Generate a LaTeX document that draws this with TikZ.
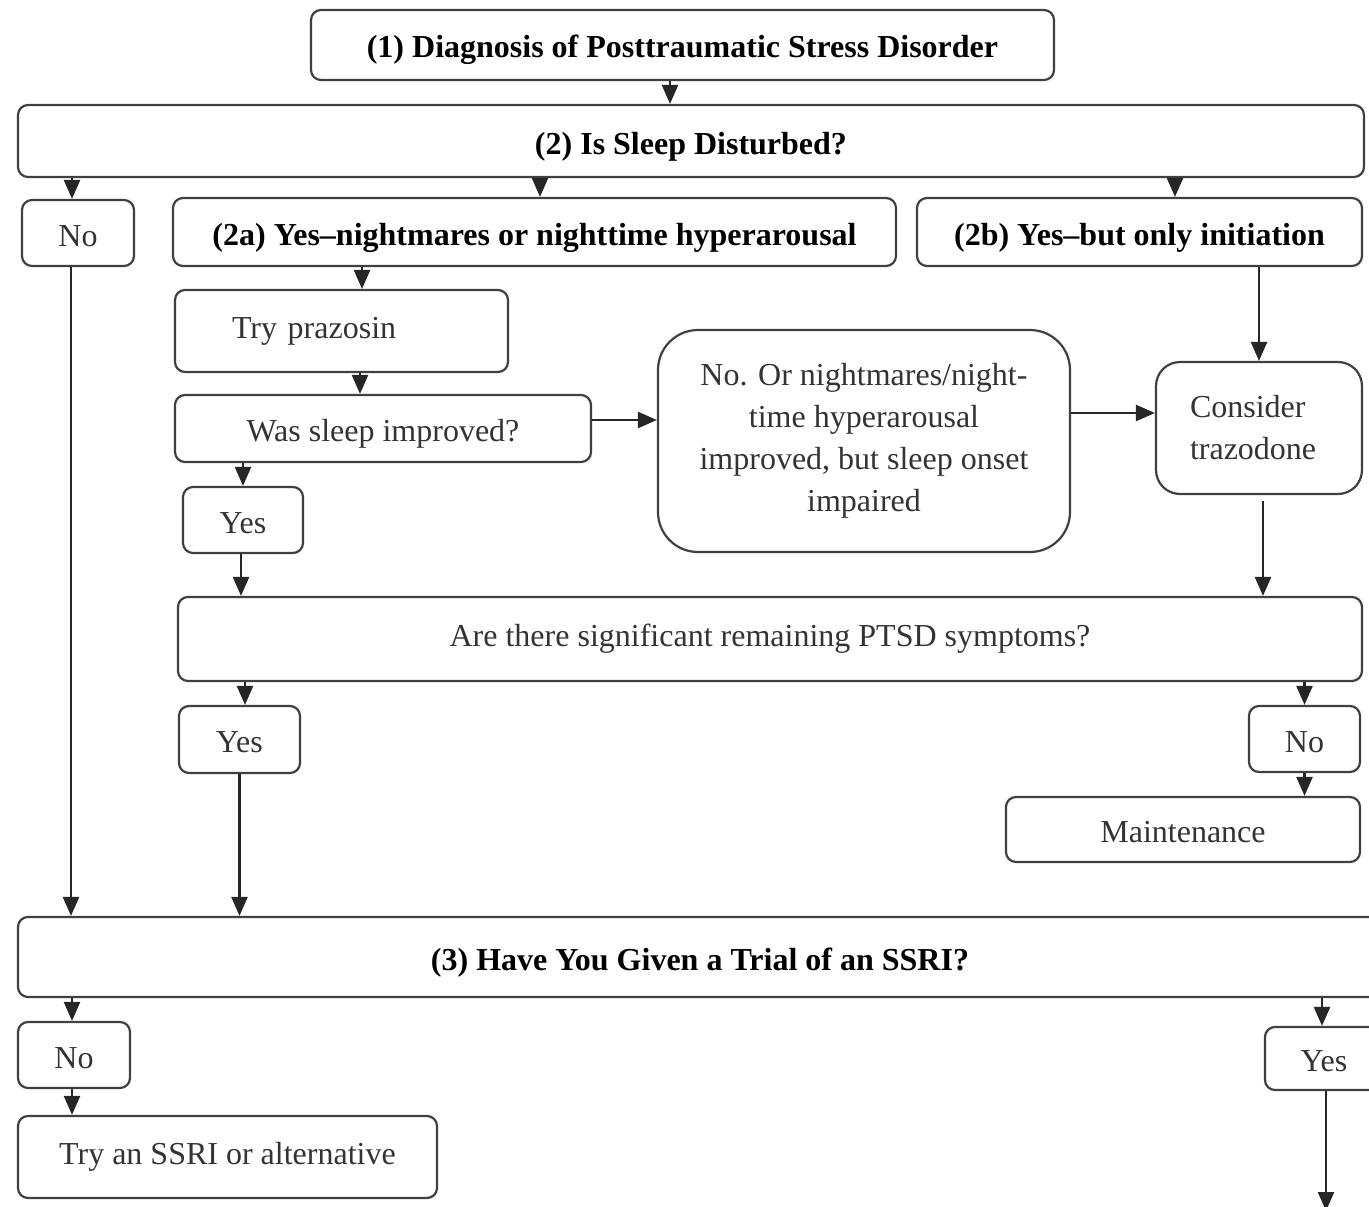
\documentclass[tikz,border=0pt]{standalone}
\usepackage{fontspec}
\setmainfont{Liberation Serif}
\usetikzlibrary{arrows.meta}
\tikzset{
	box/.style={draw=black!75, line width=2.2pt, rounded corners=10pt, inner sep=0pt, font=\fontsize{32}{42}\selectfont, text=black!80},
	low/.style={text height=26pt, text depth=0pt},
	head/.style={box, low, font=\fontsize{32}{42}\selectfont\bfseries, text=black},
	arr/.style={line width=2.4pt, draw=black!85, -{Triangle[width=16pt,length=19pt]}}
}

\begin{document}
\begin{tikzpicture}[x=1pt, y=-1pt]
			%%%%% START %%%%%
			\useasboundingbox (0,0) rectangle (1369,1207);
			\clip (0,0) rectangle (1369,1207);
			
			\node[head, minimum width=743pt, minimum height=70pt] (q1) at (682.5,45) {(1) Diagnosis of Posttraumatic Stress Disorder};
			\node[head, minimum width=1346pt, minimum height=72pt] (q2) at (691,141) {(2) Is Sleep Disturbed?};
			
			\node[box, low, minimum width=112pt, minimum height=66pt] (no1) at (78,233) {No};
			\node[head, minimum width=723pt, minimum height=68pt] (y2a) at (534.5,232) {(2a) Yes--nightmares or nighttime hyperarousal};
			\node[head, minimum width=445pt, minimum height=68pt] (y2b) at (1139.5,232) {(2b) Yes--but only initiation};
			
			\node[box, minimum width=333pt, minimum height=82pt, text width=219pt, align=left] (pz) at (341.5,331) {Try prazosin};
			\node[box, low, minimum width=416pt, minimum height=67pt] (ws) at (383,428.5) {Was sleep improved?};
			\node[box, rounded corners=40pt, minimum width=412pt, minimum height=222pt, align=center] (nor) at (864,441) {No. Or nightmares/night-\\time hyperarousal\\improved, but sleep onset\\impaired};
			\node[box, rounded corners=24pt, minimum width=206pt, minimum height=132pt, text width=138pt, align=left] (ct) at (1259,428) {Consider\\trazodone};
			\node[box, low, minimum width=120pt, minimum height=66pt] (ys1) at (243,520) {Yes};
			
			\node[box, minimum width=1184pt, minimum height=84pt] (pt) at (770,639) {Are there significant remaining PTSD symptoms?};
			\node[box, low, minimum width=121pt, minimum height=67pt] (ys2) at (239.5,739.5) {Yes};
			\node[box, low, minimum width=111pt, minimum height=66pt] (no2) at (1304.5,739) {No};
			\node[box, low, minimum width=354pt, minimum height=65pt] (mt) at (1183,829.5) {Maintenance};
			
			\node[head, minimum width=1364pt, minimum height=80pt] (q3) at (700,957) {(3) Have You Given a Trial of an SSRI?};
			\node[box, low, minimum width=112pt, minimum height=66pt] (no3) at (74,1055) {No};
			\node[box, minimum width=419pt, minimum height=82pt] (ss) at (227.5,1157) {Try an SSRI or alternative};
			\node[box, low, minimum width=118pt, minimum height=63pt] (ys3) at (1324,1058.5) {Yes};
			\coordinate (out) at (1326,1211);
			
			\draw[arr] ([xshift=-12.5pt]q1.south) -- ([xshift=-12.5pt]q1.south |- q2.north);
			\draw[arr] ([xshift=-6pt]no1.north |- q2.south) -- ([xshift=-6pt]no1.north);
			\draw[arr] ([xshift=5.5pt]y2a.north |- q2.south) -- ([xshift=5.5pt]y2a.north);
			\draw[arr] ([xshift=35.5pt]y2b.north |- q2.south) -- ([xshift=35.5pt]y2b.north);
			
			\draw[arr] ([xshift=20.5pt]pz.north |- y2a.south) -- ([xshift=20.5pt]pz.north);
			\draw[arr] ([xshift=18.5pt]pz.south) -- ([xshift=18.5pt]pz.south |- ws.north);
			\draw[arr] ([yshift=8.5pt]ws.east) -- ([yshift=8.5pt]ws.east -| nor.west);
			\draw[arr] ([yshift=15pt]ct.west -| nor.east) -- ([yshift=15pt]ct.west);
			\draw[arr] (ct.north |- y2b.south) -- (ct.north);
			\draw[arr] ([xshift=4pt,yshift=-6pt]ct.south) -- ([xshift=4pt]ct.south |- pt.north);
			\draw[arr] (ys1.north |- ws.south) -- (ys1.north);
			\draw[arr] ([xshift=-2pt]ys1.south) -- ([xshift=-2pt]ys1.south |- pt.north);
			
			\draw[arr] ([xshift=5.5pt]ys2.north |- pt.south) -- ([xshift=5.5pt]ys2.north);
			\draw[arr] (no2.north |- pt.south) -- (no2.north);
			\draw[arr] (no2.south) -- (no2.south |- mt.north);
			\draw[arr] ([xshift=-7pt]no1.south) -- ([xshift=-7pt]no1.south |- q3.north);
			\draw[arr] (ys2.south) -- (ys2.south |- q3.north);
			
			\draw[arr] ([xshift=-2pt]no3.north |- q3.south) -- ([xshift=-2pt]no3.north);
			\draw[arr] ([xshift=-2pt]ys3.north |- q3.south) -- ([xshift=-2pt]ys3.north);
			\draw[arr] ([xshift=-2pt]no3.south) -- ([xshift=-2pt]no3.south |- ss.north);
			\draw[arr] (ys3.south -| out) -- (out);
			
			%%%%% END %%%%%
\end{tikzpicture}
\end{document}
